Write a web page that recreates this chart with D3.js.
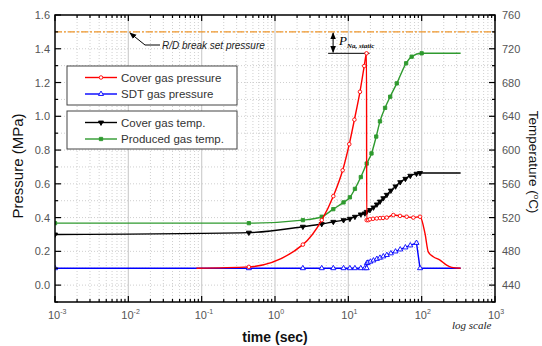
<!DOCTYPE html>
<html>
<head>
<meta charset="utf-8">
<script src="https://cdn.jsdelivr.net/npm/d3@7"></script>
<style>
  body { margin: 0; background: #fff; }
  svg { font-family: Arial, "Liberation Sans", sans-serif; }
</style>
</head>
<body>
<div id="chart"></div>
<script>
// ---- data ----
// time (sec), cover gas pressure (MPa)
var coverPresT = [0.085, 0.44, 2.4, 4.34, 6.24, 8.37, 10.3, 12.1, 14.4, 16.5, 17.7, 17.8, 18.7, 19.7, 21.7, 24.4, 27.1, 29.7, 33.4, 41.1, 50.7, 62.5, 77, 95, 111, 123, 144, 178, 219, 257, 340];
var coverPresP = [0.100, 0.108, 0.240, 0.385, 0.527, 0.680, 0.835, 0.980, 1.145, 1.298, 1.373, 0.385, 0.385, 0.390, 0.393, 0.395, 0.397, 0.398, 0.400, 0.415, 0.410, 0.405, 0.400, 0.405, 0.306, 0.197, 0.168, 0.148, 0.118, 0.105, 0.100];
// SDT gas pressure (MPa)
var sdtPresT = [0.001, 0.44, 2.4, 4.34, 6.24, 8.6, 10.5, 12.3, 14.8, 16.8, 17.8, 17.9, 18.5, 20, 22, 24.5, 27, 30, 33.5, 38, 44, 51, 60, 70, 85, 95, 340];
var sdtPresP = [0.100, 0.100, 0.100, 0.100, 0.100, 0.100, 0.100, 0.100, 0.100, 0.100, 0.100, 0.130, 0.133, 0.139, 0.146, 0.155, 0.162, 0.170, 0.178, 0.188, 0.199, 0.211, 0.223, 0.235, 0.250, 0.100, 0.100];
// cover gas temperature (deg C)
var coverTempT = [0.001, 0.44, 2.4, 4.34, 6.24, 8.6, 10.5, 12.3, 14.8, 16.8, 17.8, 19.7, 22, 24.5, 27, 30, 33.5, 38, 44, 51, 60, 70, 85, 95, 340];
var coverTempV = [500, 502.2, 509.2, 512.4, 515, 517, 518.6, 521, 523.8, 525, 526.8, 529, 532, 535.6, 539, 543, 547, 552, 557, 562, 566, 569.6, 572, 572.8, 572.8];
// produced gas temperature (deg C)
var prodTempT = [0.001, 0.44, 2.4, 4.34, 6.24, 8.6, 10.5, 12.3, 14.8, 17.8, 20.7, 24, 27, 31.7, 37.2, 45.8, 61.4, 73, 100, 340];
var prodTempV = [513.4, 513.4, 517, 521, 530, 538, 544, 554, 568, 584, 596, 616, 634, 650, 663.2, 679, 702.8, 710.6, 714.6, 714.6];

var breakPressure = 1.5;
var naStaticPressure = 1.373;

var pressTicks = [0.0, 0.2, 0.4, 0.6, 0.8, 1.0, 1.2, 1.4, 1.6];
var tempTicks = [440, 480, 520, 560, 600, 640, 680, 720, 760];
var timeExps = [-3, -2, -1, 0, 1, 2, 3];
var legendLabels = ["Cover gas pressure", "SDT gas pressure", "Cover gas temp.", "Produced gas temp."];

// ---- layout ----
var width = 542, height = 346;
var m = { left: 55, right: 47, top: 15, bottom: 44 };
var markerMaxT = 100;   // no symbols drawn after ~100 s
var markerMinT = 0.1;   // red curve starts without a symbol

var svg = d3.select("#chart").append("svg")
    .attr("width", width)
    .attr("height", height);

var x = d3.scaleLog().domain([1e-3, 1e3]).range([m.left, width - m.right]);
var yP = d3.scaleLinear().domain([-0.1, 1.6]).range([height - m.bottom, m.top]);
var yT = d3.scaleLinear().domain([420, 760]).range([height - m.bottom, m.top]);

var x0 = x.range()[0], x1 = x.range()[1], y0 = yP.range()[0], y1 = yP.range()[1];

var minorX = [];
timeExps.slice(0, -1).forEach(function (e) {
    for (var k = 2; k <= 9; k++) minorX.push(k * Math.pow(10, e));
});
var gridY = d3.range(0, 16).map(function (i) { return i / 10; });

// grid
var grid = svg.append("g");
grid.selectAll("line.gy").data(gridY).enter().append("line")
    .attr("x1", x0).attr("x2", x1)
    .attr("y1", function (d) { return yP(d); }).attr("y2", function (d) { return yP(d); })
    .style("stroke", "#cfcfcf").style("stroke-width", 1).style("stroke-dasharray", "1,2");
grid.selectAll("line.gx").data(minorX).enter().append("line")
    .attr("x1", function (d) { return x(d); }).attr("x2", function (d) { return x(d); })
    .attr("y1", y0).attr("y2", y1)
    .style("stroke", "#cfcfcf").style("stroke-width", 1).style("stroke-dasharray", "1,2");
grid.selectAll("line.gm").data(timeExps.slice(1, -1)).enter().append("line")
    .attr("x1", function (d) { return x(Math.pow(10, d)); }).attr("x2", function (d) { return x(Math.pow(10, d)); })
    .attr("y1", y0).attr("y2", y1)
    .style("stroke", "#cfcfcf").style("stroke-width", 1.2);

// R/D break line
svg.append("line")
    .attr("x1", x0).attr("x2", x1)
    .attr("y1", yP(breakPressure)).attr("y2", yP(breakPressure))
    .style("stroke", "#f0962a").style("stroke-width", 1.3)
    .style("stroke-dasharray", "7,2,2,2");

// annotations
var defs = svg.append("defs");
defs.append("marker").attr("id", "ah").attr("viewBox", "0 0 10 10")
    .attr("refX", 9).attr("refY", 5).attr("markerWidth", 7).attr("markerHeight", 7)
    .attr("orient", "auto-start-reverse")
    .append("path").attr("d", "M0,1 L10,5 L0,9 Z").attr("fill", "#000");

svg.append("path")
    .attr("d", "M160,45 L145,45 L" + x(0.0105) + "," + (yP(breakPressure) + 1))
    .attr("fill", "none").attr("stroke", "#000").attr("stroke-width", 1)
    .attr("marker-end", "url(#ah)");
svg.append("text")
    .attr("x", 162).attr("y", 48.5)
    .style("font-size", "10px").style("font-style", "italic").style("fill", "#222")
    .text("R/D break set pressure");

var naX = x(6.2);
svg.append("line")
    .attr("x1", naX).attr("x2", naX)
    .attr("y1", yP(breakPressure) + 1).attr("y2", yP(naStaticPressure) - 1)
    .attr("stroke", "#000").attr("stroke-width", 1)
    .attr("marker-start", "url(#ah)").attr("marker-end", "url(#ah)");
svg.append("line")
    .attr("x1", x(5.3)).attr("x2", x(19.5))
    .attr("y1", yP(naStaticPressure)).attr("y2", yP(naStaticPressure))
    .attr("stroke", "#000").attr("stroke-width", 1);
var pna = svg.append("text").attr("x", naX + 6).attr("y", 45)
    .style("font-family", "'Liberation Serif', 'DejaVu Serif', serif").style("font-style", "italic");
pna.append("tspan").style("font-size", "13px").text("P");
pna.append("tspan").attr("dy", 3).style("font-size", "7px").style("font-weight", "bold").text("Na, static");

// series
var clip = defs.append("clipPath").attr("id", "plotclip");
clip.append("rect").attr("x", x0).attr("y", y1).attr("width", x1 - x0).attr("height", y0 - y1);

function pts(ts, vs, ys) {
    return ts.map(function (t, i) { return [x(t), ys(vs[i]), t]; });
}

var series = [
    { name: legendLabels[3], data: pts(prodTempT, prodTempV, yT), color: "#2f9a2f", sym: d3.symbolSquare, size: 11, fill: true, curve: d3.curveMonotoneX, rot: 0, minT: 0 },
    { name: legendLabels[2], data: pts(coverTempT, coverTempV, yT), color: "#000000", sym: d3.symbolTriangle, size: 11, fill: true, curve: d3.curveMonotoneX, rot: 180, minT: 0 },
    { name: legendLabels[1], data: pts(sdtPresT, sdtPresP, yP), color: "#0000ff", sym: d3.symbolTriangle, size: 11, fill: false, curve: d3.curveLinear, rot: 0, minT: 0 },
    { name: legendLabels[0], data: pts(coverPresT, coverPresP, yP), color: "#ff0000", sym: d3.symbolCircle, size: 10, fill: false, curve: d3.curveMonotoneX, rot: 0, minT: markerMinT }
];

var plot = svg.append("g").attr("clip-path", "url(#plotclip)");
series.forEach(function (s) {
    var line = d3.line().x(function (d) { return d[0]; }).y(function (d) { return d[1]; }).curve(s.curve);
    plot.append("path").datum(s.data)
        .attr("d", line).attr("fill", "none")
        .attr("stroke", s.color).attr("stroke-width", 1.4);
    plot.selectAll(null).data(s.data.filter(function (d) { return d[2] <= markerMaxT && d[2] >= s.minT; }))
        .enter().append("path")
        .attr("d", d3.symbol().type(s.sym).size(s.size))
        .attr("transform", function (d) { return "translate(" + d[0] + "," + d[1] + ") rotate(" + s.rot + ")"; })
        .attr("fill", s.fill ? s.color : "#fff")
        .attr("stroke", s.color).attr("stroke-width", 0.9);
});

// frame and ticks (inward)
svg.append("rect").attr("x", x0).attr("y", y1).attr("width", x1 - x0).attr("height", y0 - y1)
    .attr("fill", "none").attr("stroke", "#000").attr("stroke-width", 1.5);

var tickG = svg.append("g").attr("stroke", "#000").attr("stroke-width", 1.2);
function vTicks(vals, len) {
    vals.forEach(function (v) {
        tickG.append("line").attr("x1", x(v)).attr("x2", x(v)).attr("y1", y0).attr("y2", y0 - len);
        tickG.append("line").attr("x1", x(v)).attr("x2", x(v)).attr("y1", y1).attr("y2", y1 + len);
    });
}
vTicks(timeExps.map(function (e) { return Math.pow(10, e); }), 6);
vTicks(minorX, 3);
d3.range(-0.1, 1.61, 0.1).forEach(function (v, i) {
    var len = (i % 2 === 1) ? 6 : 3;
    tickG.append("line").attr("x1", x0).attr("x2", x0 + len).attr("y1", yP(v)).attr("y2", yP(v));
});
d3.range(420, 761, 20).forEach(function (v, i) {
    var len = (i % 2 === 1) ? 6 : 3;
    tickG.append("line").attr("x1", x1).attr("x2", x1 - len).attr("y1", yT(v)).attr("y2", yT(v));
});

// tick labels
var labG = svg.append("g").style("fill", "#555").style("font-size", "11px");
labG.selectAll("text.lp").data(pressTicks).enter().append("text")
    .attr("x", 50).attr("y", function (d) { return yP(d) + 4; })
    .attr("text-anchor", "end").text(d3.format(".1f"));
labG.selectAll("text.rt").data(tempTicks).enter().append("text")
    .attr("x", 502).attr("y", function (d) { return yT(d) + 4; })
    .text(function (d) { return d; });
timeExps.forEach(function (e) {
    var t = labG.append("text").attr("x", x(Math.pow(10, e)) - 7).attr("y", 319);
    t.append("tspan").text("10");
    t.append("tspan").attr("dy", -5).style("font-size", "7px").text(e);
});

// axis titles
svg.append("text")
    .attr("transform", "translate(23,166) rotate(-90)")
    .attr("text-anchor", "middle").style("font-size", "15px").style("fill", "#111")
    .text("Pressure (MPa)");
var tt = svg.append("text")
    .attr("transform", "translate(529,162) rotate(90)")
    .attr("text-anchor", "middle").style("font-size", "13.5px").style("fill", "#111");
tt.append("tspan").text("Temperature (");
tt.append("tspan").attr("dy", -5).style("font-size", "8px").text("o");
tt.append("tspan").attr("dy", 5).text("C)");
svg.append("text")
    .attr("x", 275).attr("y", 342)
    .attr("text-anchor", "middle").style("font-size", "14px").style("font-weight", "bold").style("fill", "#111")
    .text("time (sec)");
svg.append("text")
    .attr("x", 452).attr("y", 329)
    .style("font-family", "'Liberation Serif', 'DejaVu Serif', serif").style("font-style", "italic")
    .style("font-size", "11px").style("fill", "#222")
    .text("log scale");

// legend
var legendBoxes = [
    { y: 66, h: 39, items: [series[3], series[2]] },
    { y: 111, h: 38, items: [series[1], series[0]] }
];
legendBoxes.forEach(function (b) {
    var g = svg.append("g");
    g.append("rect").attr("x", 67).attr("y", b.y).attr("width", 170).attr("height", b.h)
        .attr("fill", "#fff").attr("stroke", "#444").attr("stroke-width", 1);
    b.items.forEach(function (s, i) {
        var cy = b.y + 11.5 + i * 16.5;
        g.append("line").attr("x1", 85).attr("x2", 117).attr("y1", cy).attr("y2", cy)
            .attr("stroke", s.color).attr("stroke-width", 1.4);
        g.append("path")
            .attr("d", d3.symbol().type(s.sym).size(s.size))
            .attr("transform", "translate(101," + cy + ") rotate(" + s.rot + ")")
            .attr("fill", s.fill ? s.color : "#fff")
            .attr("stroke", s.color).attr("stroke-width", 0.9);
        g.append("text").attr("x", 121).attr("y", cy + 4)
            .style("font-size", "11.5px").style("fill", "#333").text(s.name);
    });
});
</script>
</body>
</html>
